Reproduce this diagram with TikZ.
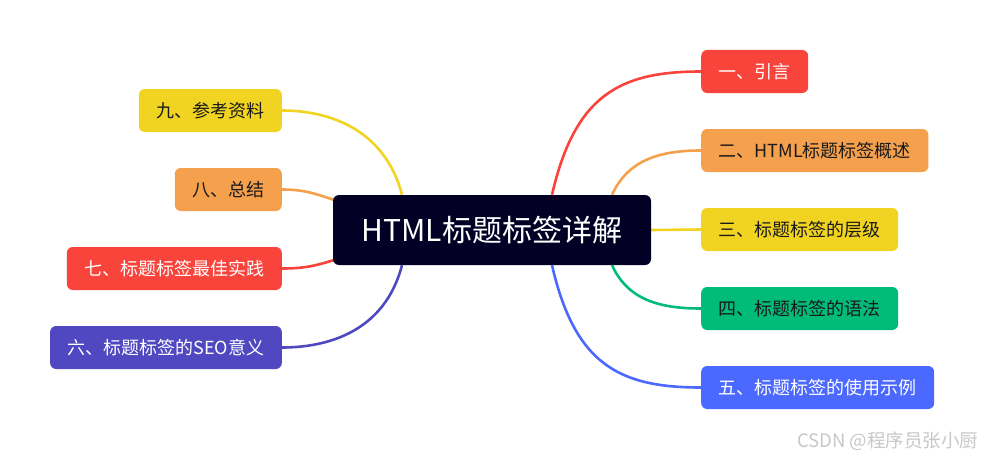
\documentclass[tikz,border=0pt]{standalone}
\usepackage{fontspec}
\setmainfont{Noto Sans CJK SC}
\usetikzlibrary{backgrounds}
\definecolor{mapred}{HTML}{F9443C}
\definecolor{maporange}{HTML}{F4A04C}
\definecolor{mapyellow}{HTML}{F1D421}
\definecolor{mapgreen}{HTML}{00BB7A}
\definecolor{mapblue}{HTML}{4C69FF}
\definecolor{mappurple}{HTML}{4F48C0}
\definecolor{mapnavy}{HTML}{030026}
\definecolor{maptext}{HTML}{1A1A1A}
\begin{document}
\begin{tikzpicture}[
  x=1pt,y=-1pt,
  line cap=round,line join=round,
  topic/.style={fill=mapnavy,text=white,rounded corners=6pt,
                minimum width=318pt,minimum height=70pt,
                font=\fontsize{30}{35}\selectfont},
  branch/.style={rounded corners=6pt,minimum height=43pt,inner xsep=17.5pt,
                 inner ysep=0pt,font=\fontsize{18}{22}\selectfont},
  light/.style={branch,text=white},
  dark/.style={branch,text=maptext},
  link/.style={line width=2.6pt}
]
\useasboundingbox (0,0) rectangle (985,460);

\node[topic] (root) at (492,230) {HTML标题标签详解};

\node[light,fill=mapred,anchor=west] (intro) at (701,71.5) {一、引言};
\node[dark,fill=maporange,anchor=west] (overview) at (701,150.5) {二、HTML标题标签概述};
\node[dark,fill=mapyellow,anchor=west] (levels) at (701,229.5) {三、标题标签的层级};
\node[dark,fill=mapgreen,anchor=west] (syntax) at (701,308.5) {四、标题标签的语法};
\node[light,fill=mapblue,anchor=west] (usage) at (701,387.5) {五、标题标签的使用示例};

\node[light,fill=mappurple,anchor=east] (seo) at (282,347.5) {六、标题标签的SEO意义};
\node[light,fill=mapred,anchor=east] (practice) at (282,268.5) {七、标题标签最佳实践};
\node[dark,fill=maporange,anchor=east] (summary) at (282,189.5) {八、总结};
\node[dark,fill=mapyellow,anchor=east] (refs) at (282,110.5) {九、参考资料};

\begin{scope}[on background layer]
\draw[link,mapred] ([xshift=60pt]root.north) .. controls +(23,-100) and +(-81,0) .. (intro.west);
\draw[link,maporange] ([xshift=120pt]root.north) .. controls +(16,-35) and +(-41,0) .. (overview.west);
\draw[link,mapyellow] (root.east) -- (levels.west);
\draw[link,mapgreen] ([xshift=120pt]root.south) .. controls +(16,35) and +(-41,0) .. (syntax.west);
\draw[link,mapblue] ([xshift=60pt]root.south) .. controls +(23,100) and +(-81,0) .. (usage.west);

\draw[link,mapyellow] ([xshift=-90pt]root.north) .. controls +(-17,-65) and +(48,0) .. (refs.east);
\draw[link,maporange] ([xshift=10pt,yshift=-8pt]root.north west) .. controls +(-25,-8) and +(25,0) .. (summary.east);
\draw[link,mapred] ([xshift=10pt,yshift=8pt]root.south west) .. controls +(-25,8) and +(25,0) .. (practice.east);
\draw[link,mappurple] ([xshift=-90pt]root.south) .. controls +(-17,65) and +(48,0) .. (seo.east);
\end{scope}

\node[anchor=east,text=black!22,font=\fontsize{18.5}{22}\selectfont] (mark) at (982,441) {CSDN @程序员张小厨};
\end{tikzpicture}
\end{document}
